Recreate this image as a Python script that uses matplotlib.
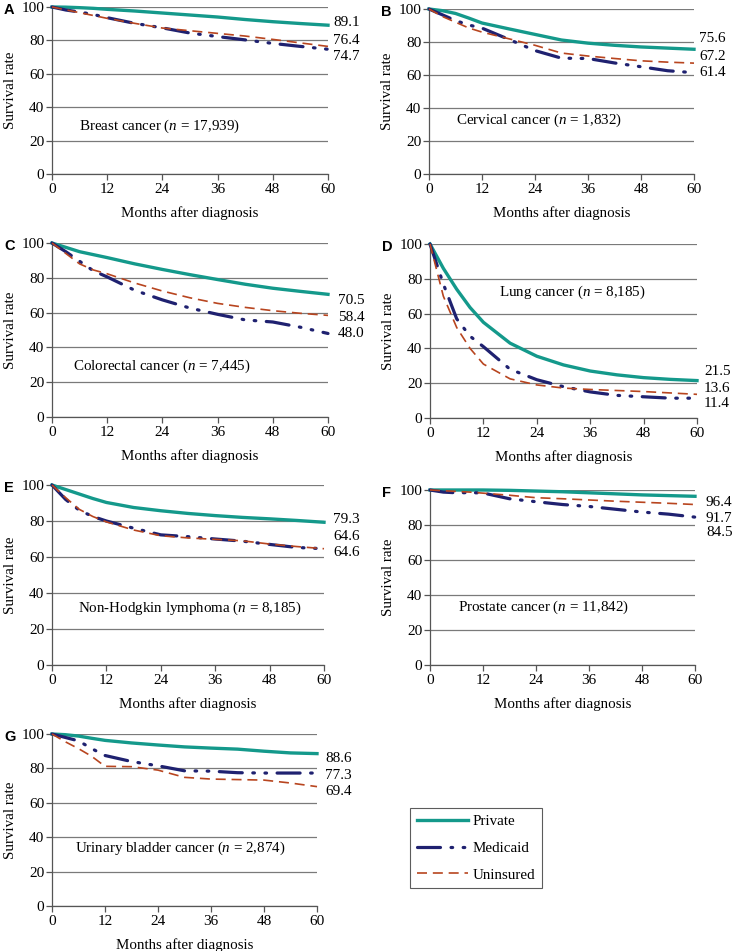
import matplotlib
matplotlib.use("Agg")
import matplotlib.pyplot as plt
from matplotlib.lines import Line2D

plt.rcParams['font.family'] = ['Liberation Serif', 'DejaVu Serif']
plt.rcParams['mathtext.fontset'] = 'custom'
plt.rcParams['mathtext.rm'] = 'Liberation Serif'
plt.rcParams['mathtext.it'] = 'Liberation Serif:italic'

# ---- data ----
months = [0, 3, 6, 9, 12, 18, 24, 30, 36, 42, 48, 54, 60]

breast_private = [100, 99.9, 99.6, 99.2, 98.6, 97.6, 96.4, 95.2, 94.0, 92.5, 91.2, 90.1, 89.1]
breast_medicaid = [100, 98.2, 97.0, 95.5, 93.6, 90.2, 87.5, 84.4, 82.3, 80.3, 78.2, 76.4, 74.7]
breast_uninsured = [100, 98.3, 96.6, 94.9, 93.2, 90.2, 87.4, 85.8, 84.2, 82.6, 80.6, 78.5, 76.4]

cervical_private = [100, 99.0, 97.3, 94.5, 91.5, 88.0, 84.6, 81.2, 79.3, 78.0, 77.0, 76.3, 75.6]
cervical_medicaid = [100, 96.5, 93.0, 90.3, 88.4, 81.7, 74.8, 70.2, 70.0, 67.3, 65.0, 62.6, 61.4]
cervical_uninsured = [100, 95.5, 92.0, 88.5, 86.0, 82.0, 78.0, 73.3, 71.5, 70.0, 68.6, 67.8, 67.2]

colorectal_private = [100, 97.5, 95.0, 93.3, 91.6, 88.0, 84.8, 81.8, 79.0, 76.3, 74.0, 72.2, 70.5]
colorectal_medicaid = [100, 95.0, 89.5, 84.0, 80.5, 72.8, 67.3, 62.6, 59.0, 55.8, 54.6, 51.6, 48.0]
colorectal_uninsured = [100, 94.0, 88.0, 84.5, 82.3, 77.0, 72.4, 68.5, 65.3, 63.0, 61.1, 59.6, 58.4]

lung_private = [100, 86.0, 74.0, 63.5, 55.0, 43.0, 35.5, 30.5, 27.0, 24.8, 23.2, 22.2, 21.5]
lung_medicaid = [100, 77.0, 57.0, 47.0, 41.0, 28.0, 22.0, 18.0, 15.0, 13.0, 12.2, 11.4, 11.4]
lung_uninsured = [100, 70.0, 52.0, 40.0, 31.0, 22.5, 19.0, 17.2, 16.4, 15.8, 15.2, 14.4, 13.6]

nhl_private = [100, 97.5, 95.0, 92.5, 90.3, 87.5, 85.7, 84.2, 83.0, 82.0, 81.2, 80.3, 79.3]
nhl_medicaid = [100, 92.0, 86.0, 82.5, 80.0, 76.0, 72.3, 71.3, 70.0, 68.8, 67.0, 65.3, 64.6]
nhl_uninsured = [100, 93.0, 86.5, 82.5, 79.5, 75.0, 71.8, 70.6, 69.8, 69.0, 67.2, 65.8, 64.6]

prostate_private = [100, 100, 100, 100, 100, 99.8, 99.4, 99.0, 98.4, 97.8, 97.2, 96.8, 96.4]
prostate_medicaid = [100, 98.8, 98.4, 98.5, 98.3, 95.0, 93.3, 91.7, 90.6, 89.0, 87.4, 86.2, 84.5]
prostate_uninsured = [100, 99.6, 99.2, 98.8, 98.2, 97.0, 95.6, 95.0, 94.3, 93.6, 93.0, 92.4, 91.7]

bladder_private = [100, 99.6, 98.8, 97.5, 96.3, 94.8, 93.6, 92.5, 91.8, 91.2, 90.0, 89.0, 88.6]
bladder_medicaid = [100, 98.0, 96.0, 91.5, 87.5, 84.0, 81.5, 78.6, 78.4, 77.5, 77.3, 77.3, 77.3]
bladder_uninsured = [100, 95.5, 91.5, 87.0, 81.2, 81.0, 79.0, 74.8, 73.8, 73.5, 73.2, 71.5, 69.4]

panel_letters = ['A', 'B', 'C', 'D', 'E', 'F', 'G']
panel_titles = ['Breast cancer ($n$ = 17,939)', 'Cervical cancer ($n$ = 1,832)',
                'Colorectal cancer ($n$ = 7,445)', 'Lung cancer ($n$ = 8,185)',
                'Non-Hodgkin lymphoma ($n$ = 8,185)', 'Prostate cancer ($n$ = 11,842)',
                'Urinary bladder cancer ($n$ = 2,874)']
end_labels = [['89.1', '76.4', '74.7'], ['75.6', '67.2', '61.4'], ['70.5', '58.4', '48.0'],
              ['21.5', '13.6', '11.4'], ['79.3', '64.6', '64.6'], ['96.4', '91.7', '84.5'],
              ['88.6', '77.3', '69.4']]
series_names = ['Private', 'Medicaid', 'Uninsured']

panels = [
    (breast_private, breast_medicaid, breast_uninsured),
    (cervical_private, cervical_medicaid, cervical_uninsured),
    (colorectal_private, colorectal_medicaid, colorectal_uninsured),
    (lung_private, lung_medicaid, lung_uninsured),
    (nhl_private, nhl_medicaid, nhl_uninsured),
    (prostate_private, prostate_medicaid, prostate_uninsured),
    (bladder_private, bladder_medicaid, bladder_uninsured),
]

# ---- layout (pixels) ----
W, H = 732, 951
boxes = [(52, 7, 276, 167), (429, 9, 265, 165), (52, 243, 276, 174), (430, 244, 267, 174),
         (52, 485, 272, 180), (430, 490, 265, 175), (52, 734, 265, 172)]
title_pos = [(5.9, 28.7), (6.1, 32.7), (4.6, 28.9), (15.5, 72), (5.7, 31.7), (6.3, 33), (5.2, 33.8)]
label_y = [(90.6, 80.2, 70.2), (82.2, 71.5, 61.4), (66.9, 57.3, 47.8), (26.7, 17.1, 8.4),
           (81.0, 71.4, 62.5), (93.0, 83.8, 75.8), (85.8, 76.1, 66.4)]
label_gap = [5, 5, 10, 7, 9, 11, 8]

styles = [
    dict(color='#14998b', lw=2.4, ls='-'),
    dict(color='#1f2170', lw=2.3, ls=(0, (7.2, 3.3, 0.5, 3.3, 0.5, 3.3)), dash_capstyle='round'),
    dict(color='#b8451f', lw=1.2, ls=(0, (6, 3.5))),
]

fig = plt.figure(figsize=(W / 100, H / 100), dpi=100)

for i, (x0, y0, w, h) in enumerate(boxes):
    ax = fig.add_axes([x0 / W, 1 - (y0 + h) / H, w / W, h / H])
    for s, vals in enumerate(panels[i]):
        ax.plot(months, vals, clip_on=False, zorder=3, **styles[s])
    ax.set_xlim(0, 60)
    ax.set_ylim(0, 100)
    ax.set_xticks(range(0, 61, 12))
    ax.set_yticks(range(0, 101, 20))
    ax.grid(axis='y', color='#7a7a7a', lw=0.9)
    ax.set_axisbelow(True)
    for side in ['top', 'right']:
        ax.spines[side].set_visible(False)
    for side in ['left', 'bottom']:
        ax.spines[side].set_color('#555555')
        ax.spines[side].set_linewidth(0.9)
    ax.tick_params(direction='out', length=4, width=0.9, color='#555555',
                   labelsize=11, pad=1.5)
    ax.tick_params(axis='x', pad=2.5)
    ax.set_ylabel('Survival rate', fontsize=10.8, labelpad=3)
    ax.set_xlabel('Months after diagnosis', fontsize=10.8, labelpad=7)
    tx, ty = title_pos[i]
    ax.text(tx, ty, panel_titles[i], fontsize=10.8, va='center', ha='left')
    for k in range(3):
        ax.annotate(end_labels[i][k], xy=(1, label_y[i][k]), xycoords=('axes fraction', 'data'),
                    xytext=(label_gap[i] * 0.72, 0), textcoords='offset points', fontsize=11,
                    va='center', ha='left', annotation_clip=False)
    fig.text((x0 - 48) / W, 1 - (y0 + 3) / H, panel_letters[i], fontsize=10.5,
             fontweight='bold', family='Liberation Sans', va='center', ha='left')

handles = [Line2D([], [], **st) for st in styles]
leg = fig.legend(handles, series_names, loc='upper left',
                 bbox_to_anchor=(410 / W, 1 - 808 / H), borderaxespad=0,
                 frameon=True, fancybox=False, edgecolor='#333333', fontsize=10.8,
                 handlelength=3.4, labelspacing=0.88, borderpad=0.45, handletextpad=0.3)
leg.get_frame().set_linewidth(0.8)

fig.savefig('out.png', dpi=100)
